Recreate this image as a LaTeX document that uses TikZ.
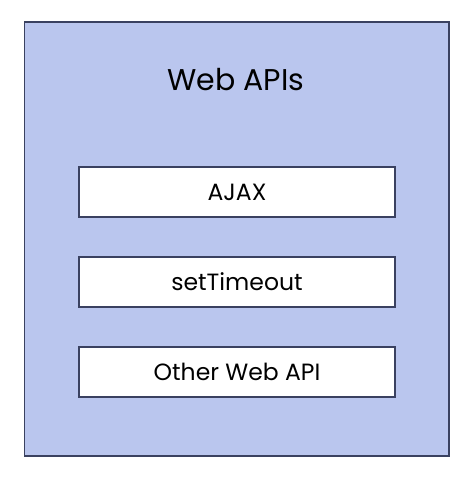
\documentclass[tikz,border=0pt]{standalone}
\usepackage{fontspec}
\setmainfont{Poppins}
\definecolor{panel}{HTML}{BAC6EE}
\definecolor{edge}{HTML}{3A4160}
\begin{document}
\begin{tikzpicture}[x=1pt,y=-1pt,
  apibox/.style={draw=edge, line width=1.4pt, fill=white, minimum width=316pt, minimum height=50pt, inner sep=0pt, font=\fontsize{23.5}{28}\selectfont},
  ]
\useasboundingbox (0,0) rectangle (474,479);
\draw[draw=edge, line width=1.4pt, fill=panel] (24.5,22) rectangle (449,456);
\node[font=\fontsize{30}{36}\selectfont] (title) at (236,80) {Web APIs};
\node[apibox] (ajax) at (237,192) {AJAX};
\node[apibox] (timeout) at (237,282) {setTimeout};
\node[apibox] (other) at (237,372) {Other Web API};
\end{tikzpicture}
\end{document}
